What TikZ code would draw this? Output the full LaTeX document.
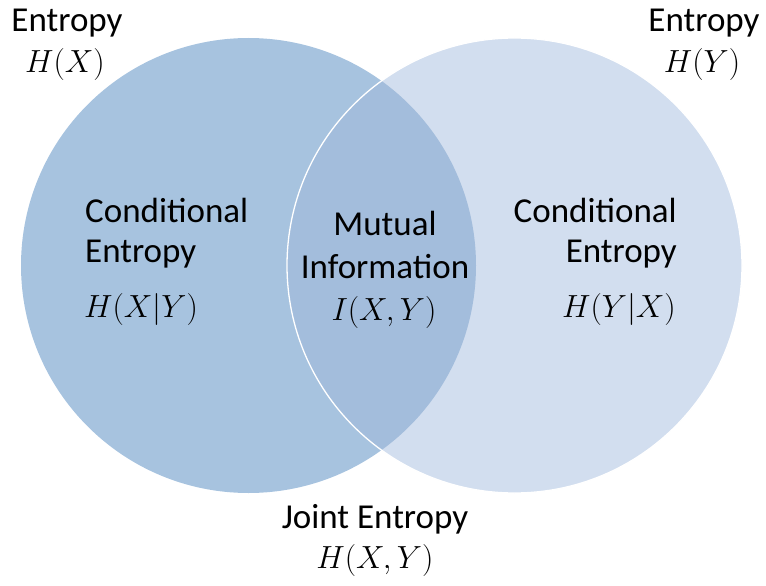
\RequirePackage{fix-cm}
\documentclass[tikz,border=0pt]{standalone}
\usepackage{fontspec}
\setmainfont{Carlito}
\definecolor{setx}{HTML}{A7C3DF}
\definecolor{sety}{HTML}{D2DEEF}
\definecolor{setxy}{HTML}{A3BDDC}
\begin{document}
\begin{tikzpicture}[x=1pt,y=-1pt,
  lbl/.style={inner sep=0pt,font=\fontsize{35}{40}\selectfont},
  mth/.style={inner sep=0pt,font=\fontsize{32}{38}\selectfont}]
\useasboundingbox (0,0) rectangle (766,586);
% the two sets
\coordinate (cx) at (248.5,265.5);
\coordinate (cy) at (514.5,265.5);
\fill[setx] (cx) circle (227.5pt);
\fill[sety] (cy) circle (227.5pt);
\begin{scope}
  \clip (cx) circle (227.5pt);
  \fill[setxy] (cy) circle (227.5pt);
\end{scope}
\draw[white,line width=1.3pt] (cy) circle (227.5pt);
% corner labels
\node[lbl,anchor=base] (hxl) at (67,32) {Entropy};
\node[mth,anchor=base] (hx) at (65,73) {$H(X)$};
\node[lbl,anchor=base] (hyl) at (704,32) {Entropy};
\node[mth,anchor=base] (hy) at (702,73) {$H(Y)$};
% left region
\node[lbl,anchor=base west] (cl1) at (85,222) {Conditional};
\node[lbl,anchor=base west] (cl2) at (85,262) {Entropy};
\node[mth,anchor=base west] (hxgy) at (84,317) {$H(X|Y)$};
% middle region
\node[lbl,anchor=base] (mi1) at (385,235) {Mutual};
\node[lbl,anchor=base] (mi2) at (385,278) {Information};
\node[mth,anchor=base] (ixy) at (384,320) {$I(X,Y)$};
% right region
\node[lbl,anchor=base east] (cr1) at (677,222) {Conditional};
\node[lbl,anchor=base east] (cr2) at (677,262) {Entropy};
\node[mth,anchor=base east] (hygx) at (676,317) {$H(Y|X)$};
% joint entropy
\node[lbl,anchor=base] (jl) at (375,528) {Joint Entropy};
\node[mth,anchor=base] (jxy) at (375,568) {$H(X,Y)$};
\end{tikzpicture}
\end{document}
